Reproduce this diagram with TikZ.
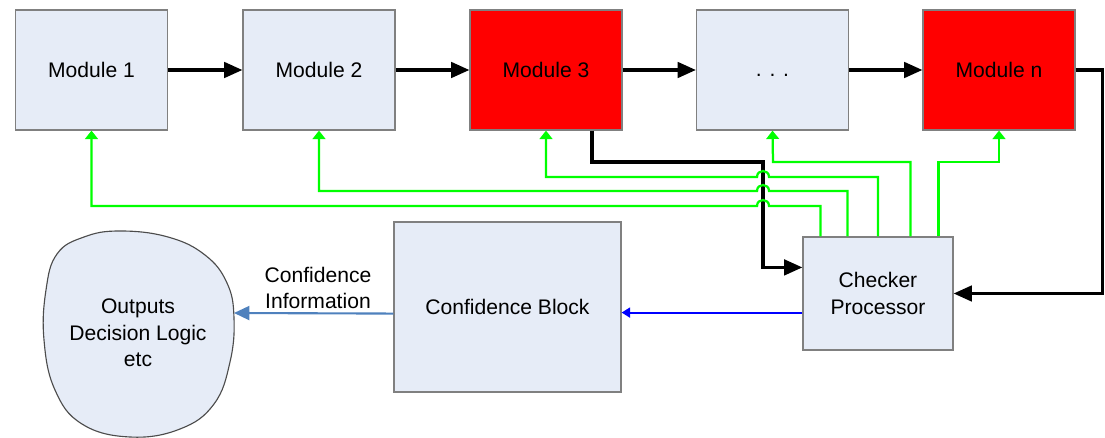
\documentclass[tikz,border=0pt]{standalone}
\usepackage{fontspec}
\setmainfont{Liberation Sans}
\usetikzlibrary{calc,arrows.meta}
\definecolor{boxfill}{HTML}{E6ECF7}
\definecolor{boxline}{HTML}{808080}
\definecolor{grn}{HTML}{00FF00}
\definecolor{dblue}{HTML}{0000FF}
\definecolor{lblue}{HTML}{4F81BD}
\definecolor{redfill}{HTML}{FF0000}
\tikzset{
  modbox/.style={draw=boxline, line width=0.8pt, fill=boxfill, minimum width=3.8cm, minimum height=3.0cm, inner sep=0pt, align=center, font=\fontsize{15}{19}\selectfont},
  redbox/.style={modbox, fill=redfill},
  flow/.style={line width=2.3pt, -{Triangle[length=13pt,width=11pt]}},
  fb/.style={draw=grn, line width=1.6pt, -{Triangle[length=6pt,width=9pt]}},
  dbl/.style={draw=dblue, line width=1.5pt, -{Triangle[length=6pt,width=7pt]}},
  lbl/.style={draw=lblue, line width=1.5pt, -{Triangle[length=11pt,width=10pt]}},
  txt/.style={align=center, inner sep=0pt, font=\fontsize{15}{19}\selectfont}
}
\begin{document}
\begin{tikzpicture}[x=0.025cm, y=-0.025cm]
\useasboundingbox (0,0) rectangle (1105,438);
% modules
\node[modbox] (m1) at (91.5,70) {Module 1};
\node[modbox] (m2) at (319,70) {Module 2};
\node[redbox] (m3) at (546,70) {Module 3};
\node[modbox] (m4) at (772.5,70) {};
\node[txt] (dots) at (772.5,75) {. . .};
\node[redbox] (mn) at (999,70) {Module n};
% checker and confidence
\node[modbox, minimum width=3.75cm, minimum height=2.825cm] (chk) at (878,293.5) {Checker\\Processor};
\node[modbox, minimum width=5.675cm, minimum height=4.25cm] (conf) at (507.5,307) {Confidence Block};
% cloud
\draw[fill=boxfill, draw=black!70, line width=0.8pt] plot[smooth cycle, tension=0.7] coordinates {
 (120,231) (168,237) (205,255) (227,283) (234,318) (230,362) (214,404) (180,429) (130,437) (82,424) (55,390) (44,340) (46,290) (57,254) (84,237)};
\node[txt] (cloud) at (138,333) {Outputs\\Decision Logic\\etc};
\coordinate (cloudR) at (234,313);
% chain
\draw[flow] (m1.east) -- (m2.west);
\draw[flow] (m2.east) -- (m3.west);
\draw[flow] (m3.east) -- (m4.west);
\draw[flow] (m4.east) -- (mn.west);
% black to checker
\draw[flow] ($(m3.south)+(46,0)$) |- (763,162) |- ($(chk.north west)+(0,31)$);
\draw[flow] (mn.east) -- ++(27,0) |- (chk.east);
% green feedback
\draw[fb] ($(chk.north west)+(18,0)$) |- (769,206) .. controls (769,198) and (757,198) .. (757,206) -| (m1.south);
\draw[fb] ($(chk.north west)+(45,0)$) |- (769,191) .. controls (769,183) and (757,183) .. (757,191) -| (m2.south);
\draw[fb] (chk.north) |- (769,177) .. controls (769,169) and (757,169) .. (757,177) -| (m3.south);
\draw[fb] ($(chk.north west)+(108,0)$) |- (773,162) -- (m4.south);
\draw[fb] ($(chk.north west)+(136,0)$) |- (mn.south |- 0,162) -- (mn.south);
% blue
\coordinate (b1) at ($(chk.south west)+(0,-38)$);
\draw[dbl] (b1) -- (b1 -| conf.east);
\coordinate (b2) at ($(conf.south west)+(0,-79)$);
\draw[lbl] (b2) -- (cloudR);
\node[txt, anchor=center] (cinfo) at (318,288) {Confidence\\Information};
\end{tikzpicture}
\end{document}
